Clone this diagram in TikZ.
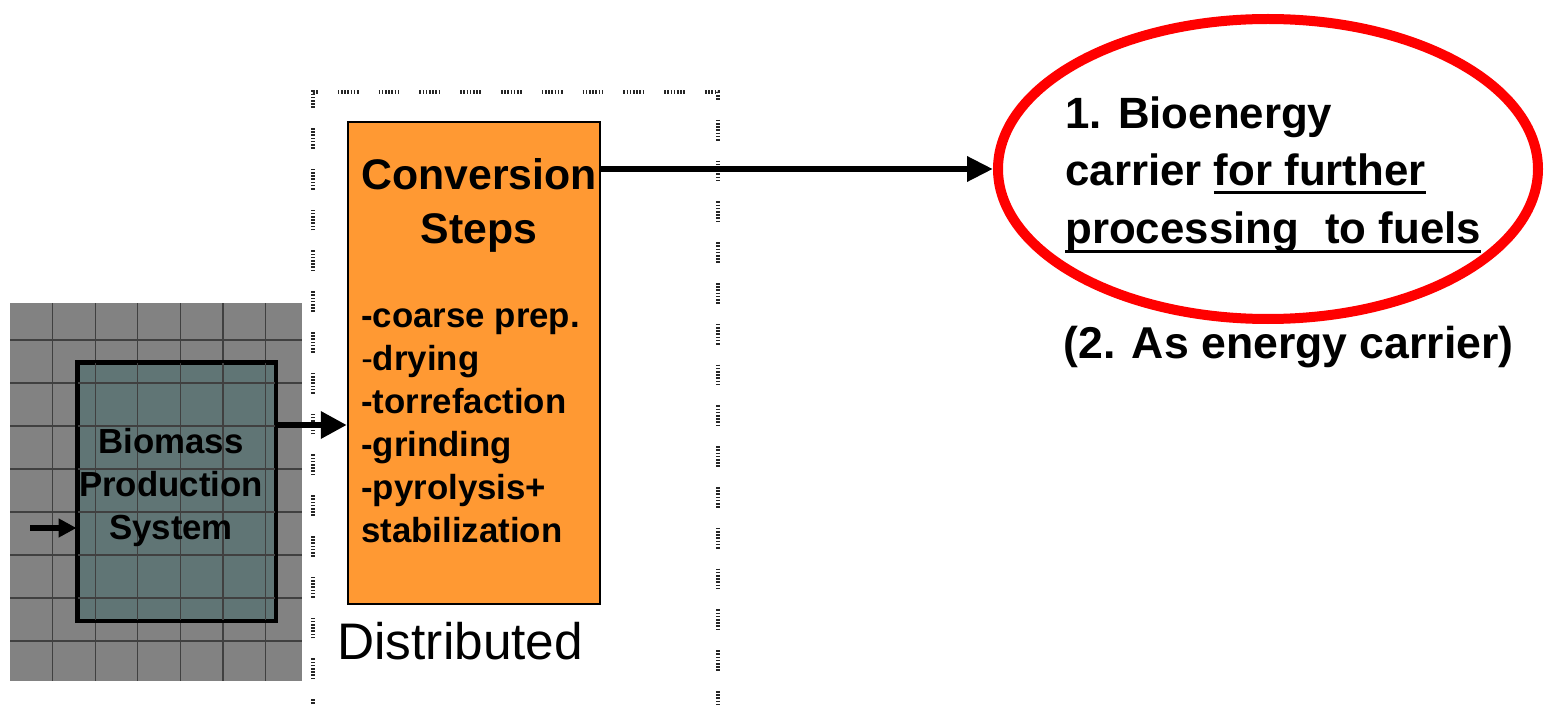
\documentclass[tikz,border=0pt]{standalone}
\usepackage{fontspec}
\setmainfont{Liberation Sans}
\usepackage{xcolor}
\usetikzlibrary{shapes, positioning, arrows.meta}
\definecolor{convorange}{RGB}{255,153,51}
\definecolor{biogray}{RGB}{130,130,130}
\definecolor{biocyan}{RGB}{96,117,117}
\newcommand{\uln}[2][5pt]{\setbox0\hbox{#2}\rlap{\rule[-#1]{\wd0}{1.5pt}}\box0}
\begin{document}
\begin{tikzpicture}[x=0.5pt, y=-0.5pt,
        arr/.style={line width=3.2pt, -{Triangle[length=12pt, width=12pt]}},
        txt/.style={inner sep=0pt, font=\bfseries\fontsize{17.4}{21.5}\selectfont},
        frame/.style={black!85, line width=1.6pt, dash pattern=on 0.8pt off 0.8pt on 0.8pt off 0.8pt on 0.8pt off 0.8pt on 0.8pt off 0.8pt on 0.8pt off 0.8pt on 0.8pt off 0.8pt on 0.8pt off 10pt}]
        \useasboundingbox (0,0) rectangle (1544,706);

        \draw[frame] (313,720) -- (313,92) -- (718,92) -- (718,720);

        \fill[biogray] (10,303) rectangle (302,681);
        \node[draw, line width=1.5pt, fill=biocyan, minimum width=98.5pt, minimum height=128.5pt, inner sep=0pt] (bio) at (176.5,491.5) {};
        \foreach \gx in {52.6,95.2,...,300}
            \draw[black!75, line width=0.6pt] (\gx,303) -- (\gx,681);
        \foreach \gy in {340,383,...,681}
            \draw[black!75, line width=0.6pt] (10,\gy) -- (302,\gy);
        \draw[line width=1.5pt] (bio.south west) rectangle (bio.north east);
        \node[txt, align=center, anchor=north] (biotxt) at (171,428) {Biomass\\Production\\System};

        \node[draw, line width=1.2pt, fill=convorange, minimum width=126pt, minimum height=241pt, inner sep=0pt] (conv) at (474,363) {};
        \node[txt, font=\bfseries\fontsize{21.4}{27}\selectfont, align=center, anchor=north] (convtitle) at (479,158) {Conversion\\Steps};
        \node[txt, align=left, anchor=north west] (steps) at (361,308) {-coarse prep.\\{\mdseries -}drying\\-torrefaction\\-grinding\\-pyrolysis+\\stabilization};
        \node[inner sep=0pt, font=\fontsize{25.7}{30}\selectfont, anchor=north west] (dist) at (337,622) {Distributed};

        \node[ellipse, draw=red, line width=5pt, minimum width=270pt, minimum height=150pt, inner sep=0pt] (tgt) at (1268,169) {};
        \node[txt, font=\bfseries\fontsize{21.9}{28.75}\selectfont, align=left, anchor=north west] (tgttxt) at (1065,96) {1. Bioenergy\\carrier \uln[4pt]{for further}\\\uln{processing\hspace{0.6em}to fuels}};
        \node[txt, font=\bfseries\fontsize{22.3}{28.75}\selectfont, anchor=north west] (alt) at (1063,326) {(2. As energy carrier)};

        \coordinate (feed) at ([yshift=33.25pt]bio.east);
        \coordinate (src) at (30,528);
        \draw[arr, -{Triangle[length=13pt, width=12pt]}] (conv.east |- tgt.west) -- (tgt.west);
        \draw[arr, -{Triangle[length=13pt, width=13pt]}] (feed) -- (feed -| conv.west);
        \draw[arr, line width=2.6pt, -{Triangle[length=9pt, width=9pt]}] (src) -- (src -| bio.west);
\end{tikzpicture}
\end{document}
